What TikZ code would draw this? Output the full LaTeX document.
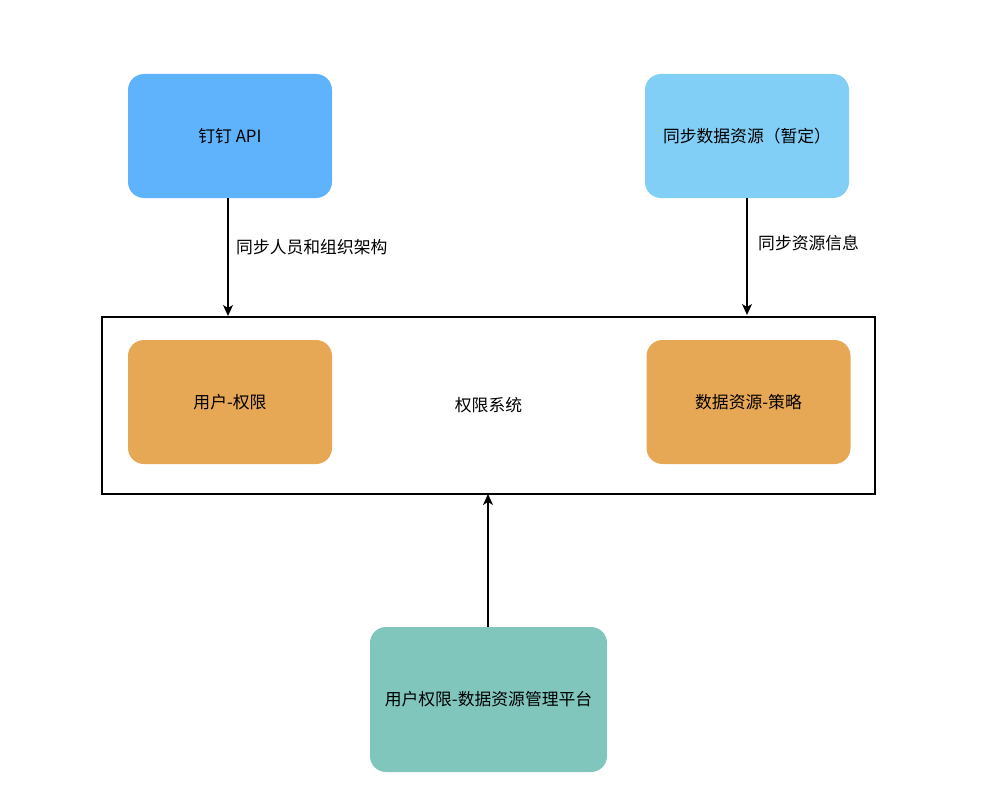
\documentclass[tikz,border=0pt]{standalone}
\usepackage{fontspec}
\setmainfont{Noto Sans CJK SC}
\usetikzlibrary{arrows.meta}
\definecolor{cblue}{HTML}{5FB2FC}
\definecolor{clight}{HTML}{81CFF7}
\definecolor{corange}{HTML}{E7A855}
\definecolor{cteal}{HTML}{80C6BD}
\tikzset{
  box/.style={rounded corners=16pt, inner sep=0pt, font=\fontsize{16.8}{20}\selectfont},
  sysbox/.style={draw=black, line width=1.3pt, inner sep=0pt, font=\fontsize{16.8}{20}\selectfont},
  conn/.style={line width=1.3pt, -{Stealth[length=11pt,width=10pt,inset=3pt]}},
  lbl/.style={anchor=west, inner sep=0pt, font=\fontsize{16.8}{20}\selectfont}
}
\begin{document}
\begin{tikzpicture}[x=1pt,y=-1pt]
\useasboundingbox (0,0) rectangle (1004,800);
\node[sysbox, minimum width=773pt, minimum height=177pt] (sys) at (488.5,405.5) {权限系统};
\node[box, fill=cblue, minimum width=204pt, minimum height=124pt] (api) at (230,136) {钉钉 API};
\node[box, fill=clight, minimum width=204pt, minimum height=124pt] (sync) at (747,136) {同步数据资源（暂定）};
\node[box, fill=corange, minimum width=204pt, minimum height=124pt] (user) at (230,402) {用户-权限};
\node[box, fill=corange, minimum width=204pt, minimum height=124pt] (data) at (748.5,402) {数据资源-策略};
\node[box, fill=cteal, minimum width=237pt, minimum height=145pt] (plat) at (488.5,699.5) {用户权限-数据资源管理平台};
\coordinate (t1) at (228,316);
\coordinate (t2) at (747,315);
\coordinate (t3) at (488,494);
\draw[conn] (api.south -| t1) -- (t1);
\draw[conn] (sync.south -| t2) -- (t2);
\draw[conn] (plat.north -| t3) -- (t3);
\node[lbl] (l1) at (236,247) {同步人员和组织架构};
\node[lbl] (l2) at (758,243) {同步资源信息};
\end{tikzpicture}
\end{document}
